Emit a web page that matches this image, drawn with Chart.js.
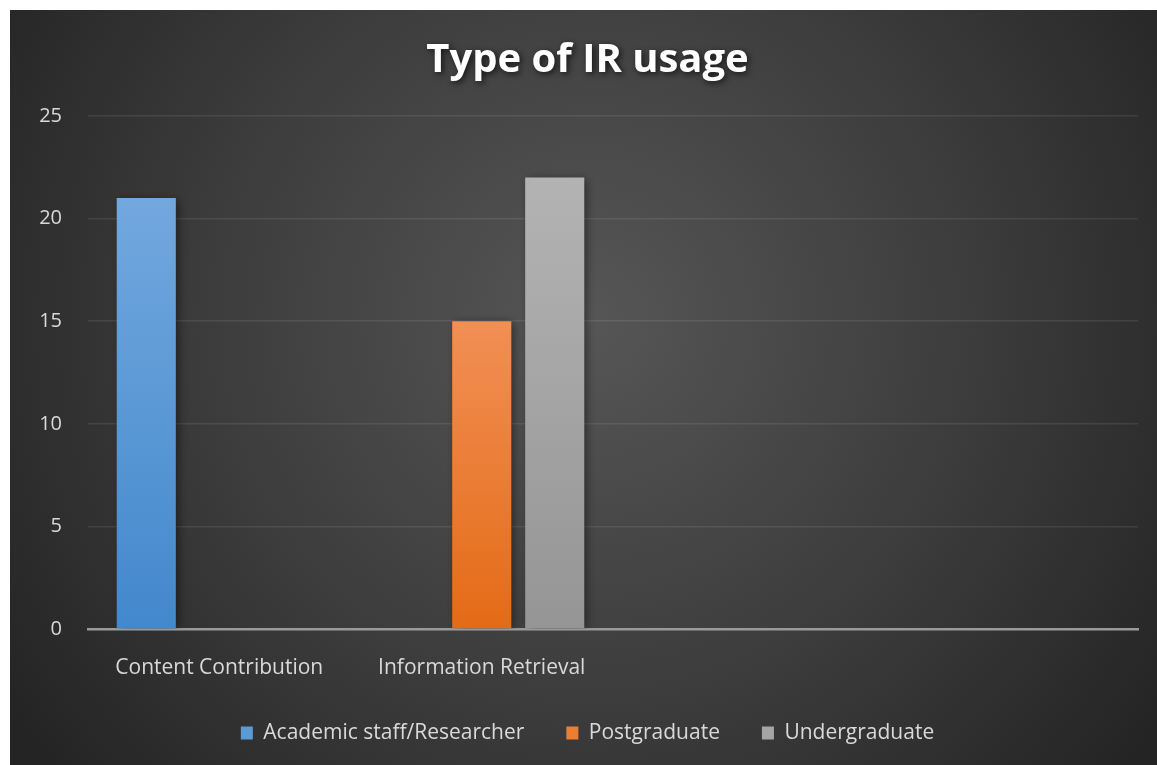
<!DOCTYPE html>
<html>
<head>
<meta charset="utf-8">
<title>Type of IR usage</title>
<script src="https://cdn.jsdelivr.net/npm/chart.js@4"></script>
<style>
  html, body { margin: 0; padding: 0; background: #fff; }
  #wrap { width: 1157px; height: 765px; }
</style>
</head>
<body>
<div id="wrap"><canvas id="chart"></canvas></div>
<script>
// categories (last two are blank in the original workbook)
const categories = ['Content Contribution', 'Information Retrieval', '', ''];
const seriesNames = ['Academic staff/Researcher', 'Postgraduate', 'Undergraduate'];
const academic = [21, null, null, null];
const postgraduate = [null, 15, null, null];
const undergraduate = [null, 22, null, null];
const yTicks = [0, 5, 10, 15, 20, 25];

const FONT = "'Open Sans', 'Noto Sans', sans-serif";

// vertical gradient for each bar, light on top, darker at the base
function barFill(top, bottom) {
    return function (c) {
        const chart = c.chart;
        if (!chart.chartArea || c.raw == null) return bottom;
        const y = chart.scales.y;
        const g = chart.ctx.createLinearGradient(0, y.getPixelForValue(c.raw), 0, y.getPixelForValue(0));
        g.addColorStop(0, top);
        g.addColorStop(1, bottom);
        return g;
    };
}

const solid = ['#5b9bd5', '#ed7d31', '#a5a5a5'];

const background = {
    id: 'background',
    beforeDraw(chart) {
        const ctx = chart.ctx;
        const w = chart.width, h = chart.height;
        ctx.save();
        ctx.fillStyle = '#ffffff';
        ctx.fillRect(0, 0, w, h);
        const g = ctx.createRadialGradient(590, 320, 0, 590, 320, 700);
        g.addColorStop(0, '#565656');
        g.addColorStop(0.55, '#3c3c3c');
        g.addColorStop(1, '#242424');
        ctx.fillStyle = g;
        ctx.fillRect(10, 10, w - 10, h - 10);
        ctx.restore();
    }
};

const barShadow = {
    id: 'barShadow',
    beforeDatasetsDraw(chart) {
        const ctx = chart.ctx;
        ctx.save();
        ctx.shadowColor = 'rgba(0,0,0,0.45)';
        ctx.shadowBlur = 9;
        ctx.shadowOffsetX = 3;
        ctx.shadowOffsetY = 1;
    },
    afterDatasetsDraw(chart) {
        chart.ctx.restore();
    }
};

// soft drop shadow under the title text
const titleShadow = {
    id: 'titleShadow',
    afterLayout(chart) {
        const tb = chart.titleBlock;
        if (!tb || tb._shadowed) return;
        const orig = tb.draw.bind(tb);
        tb.draw = function (...args) {
            const c = chart.ctx;
            c.save();
            c.shadowColor = 'rgba(0,0,0,0.7)';
            c.shadowBlur = 6;
            c.shadowOffsetX = 2;
            c.shadowOffsetY = 2;
            orig(...args);
            c.restore();
        };
        tb._shadowed = true;
    }
};

const ctx = document.getElementById('chart').getContext('2d');
const chart = new Chart(ctx, {
    type: 'bar',
    data: {
        labels: categories,
        datasets: [
            {
                label: seriesNames[0],
                data: academic,
                backgroundColor: barFill('#72a8de', '#4388cc')
            },
            {
                label: seriesNames[1],
                data: postgraduate,
                backgroundColor: barFill('#f28f55', '#e36b16')
            },
            {
                label: seriesNames[2],
                data: undergraduate,
                backgroundColor: barFill('#b3b3b3', '#959595')
            }
        ]
    },
    options: {
        responsive: true,
        maintainAspectRatio: false,
        animation: false,
        categoryPercentage: 0.834,
        barPercentage: 0.81,
        layout: { padding: { left: 37, right: 19, top: 10, bottom: 11.5 } },
        plugins: {
            title: {
                display: true,
                text: 'Type of IR usage',
                color: '#ffffff',
                font: { family: FONT, size: 40, weight: 'bold' },
                padding: { top: 27, bottom: 31 }
            },
            legend: {
                position: 'bottom',
                labels: {
                    color: '#d9d9d9',
                    font: { family: FONT, size: 21 },
                    boxWidth: 12,
                    boxHeight: 13,
                    padding: 42,
                    generateLabels(chart) {
                        const items = Chart.defaults.plugins.legend.labels.generateLabels(chart);
                        items.forEach((it, i) => {
                            it.fillStyle = solid[i];
                            it.strokeStyle = solid[i];
                            it.lineWidth = 0;
                        });
                        return items;
                    }
                }
            },
            tooltip: { enabled: false }
        },
        scales: {
            x: {
                grid: { display: false, drawTicks: false },
                border: { display: true, color: '#9a9a9a', width: 2.5 },
                ticks: {
                    color: '#d9d9d9',
                    font: { family: FONT, size: 21 },
                    padding: 26.4,
                    maxRotation: 0,
                    autoSkip: false
                },
                afterFit(scale) { scale.height = 51.5; }
            },
            y: {
                min: 0,
                max: 25,
                afterBuildTicks(scale) {
                    scale.ticks = yTicks.map(v => ({ value: v }));
                },
                grid: { color: 'rgba(255,255,255,0.09)', lineWidth: 1.5, drawTicks: false },
                border: { display: false },
                ticks: {
                    color: '#d9d9d9',
                    font: { family: FONT, size: 20 },
                    padding: 26
                },
                afterFit(scale) { scale.width = 51; }
            }
        }
    },
    plugins: [background, barShadow, titleShadow]
});
</script>
</body>
</html>
